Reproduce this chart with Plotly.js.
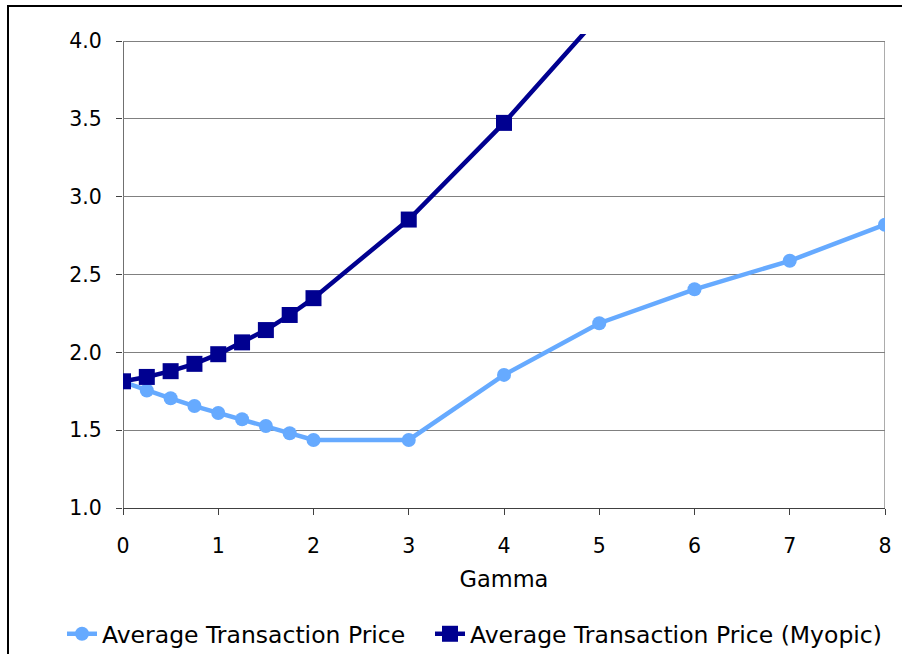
<!DOCTYPE html>
<html>
<head>
<meta charset="utf-8">
<script src="https://cdn.plot.ly/plotly-3.0.1.min.js"></script>
<style>html,body{margin:0;padding:0;background:#fff;}#chart{width:902px;height:654px;}</style>
</head>
<body>
<div id="chart"></div>
<script>
// Data
var gammaLevels = [0, 0.25, 0.5, 0.75, 1, 1.25, 1.5, 1.75, 2, 3, 4, 5, 6, 7, 8];
var avgPrice = [1.81, 1.755, 1.705, 1.655, 1.61, 1.57, 1.527, 1.48, 1.437, 1.437, 1.855, 2.187, 2.405, 2.588, 2.82];
var gammaMyopic = [0, 0.25, 0.5, 0.75, 1, 1.25, 1.5, 1.75, 2, 3, 4, 5];
var avgPriceMyopic = [1.814, 1.842, 1.879, 1.926, 1.988, 2.064, 2.143, 2.24, 2.348, 2.853, 3.474, 4.16];
var seriesNames = ['Average Transaction Price', 'Average Transaction Price (Myopic)'];
var yTicks = [1.0, 1.5, 2.0, 2.5, 3.0, 3.5, 4.0];
var yTickText = ['1.0', '1.5', '2.0', '2.5', '3.0', '3.5', '4.0'];
var xTicks = [0, 1, 2, 3, 4, 5, 6, 7, 8];
var xTitle = 'Gamma';

var W = 902, H = 654;
var L = 123, R = 885, T = 34, B = 508;
function px2x(p) { return (p - L) / (R - L); }
function px2y(p) { return (B - p) / (B - T); }

var font = 'DejaVu Sans, Verdana, sans-serif';

var traces = [
  {
    x: gammaLevels, y: avgPrice, name: seriesNames[0], type: 'scatter', mode: 'lines+markers',
    line: {color: '#66AAFF', width: 4.5},
    marker: {color: '#66AAFF', size: 14, symbol: 'circle'},
    cliponaxis: true, legend: 'legend'
  },
  {
    x: gammaMyopic, y: avgPriceMyopic, name: seriesNames[1], type: 'scatter', mode: 'lines+markers',
    line: {color: '#000090', width: 4.5},
    marker: {color: '#000090', size: 16, symbol: 'square'},
    cliponaxis: true, legend: 'legend2'
  }
];

var legFont = {family: font, size: 23.5, color: '#000000'};
var layout = {
  width: W, height: H,
  margin: {l: L, r: W - R, t: T, b: H - B, pad: 0, autoexpand: false},
  paper_bgcolor: '#ffffff', plot_bgcolor: '#ffffff',
  font: {family: font, size: 20, color: '#000000'},
  showlegend: true,
  legend: {
    orientation: 'h', x: px2x(62), xanchor: 'left', y: px2y(634), yanchor: 'middle',
    font: legFont, itemwidth: 30, bgcolor: 'rgba(0,0,0,0)'
  },
  legend2: {
    orientation: 'h', x: px2x(430), xanchor: 'left', y: px2y(634), yanchor: 'middle',
    font: legFont, itemwidth: 30, bgcolor: 'rgba(0,0,0,0)'
  },
  xaxis: {
    range: [0, 8], tickvals: xTicks, ticktext: xTicks.map(String),
    showgrid: false, zeroline: false,
    showline: true, linecolor: '#404040', linewidth: 1,
    ticks: 'outside', ticklen: 6, tickcolor: '#404040', tickwidth: 1,
    ticklabelstandoff: 13,
    tickfont: {family: font, size: 20.5, color: '#000000'},
    title: {text: xTitle, font: {family: font, size: 22.5, color: '#000000'}, standoff: 14}
  },
  yaxis: {
    range: [1.0, 4.0 + (41 - T) / ((B - 41) / 3)], tickvals: yTicks, ticktext: yTickText,
    showgrid: true, gridcolor: '#808080', gridwidth: 1, zeroline: false,
    showline: false,
    ticks: 'outside', ticklen: 6, tickcolor: '#404040', tickwidth: 1,
    ticklabelstandoff: 10,
    tickfont: {family: font, size: 20.5, color: '#000000'}
  },
  shapes: [
    {type: 'line', xref: 'x', yref: 'y', x0: 0, x1: 0, y0: 1.0, y1: 4.0, line: {color: '#404040', width: 1.5}, layer: 'below'},
    {type: 'line', xref: 'x', yref: 'y', x0: 8, x1: 8, y0: 1.0, y1: 4.0, line: {color: '#909090', width: 1.5}, layer: 'below'},
    {type: 'rect', xref: 'paper', yref: 'paper', x0: px2x(8), x1: px2x(910), y0: px2y(6), y1: px2y(670), line: {color: '#000000', width: 2}, fillcolor: 'rgba(0,0,0,0)'}
  ]
};

Plotly.newPlot('chart', traces, layout, {displayModeBar: false, staticPlot: true});
</script>
</body>
</html>
